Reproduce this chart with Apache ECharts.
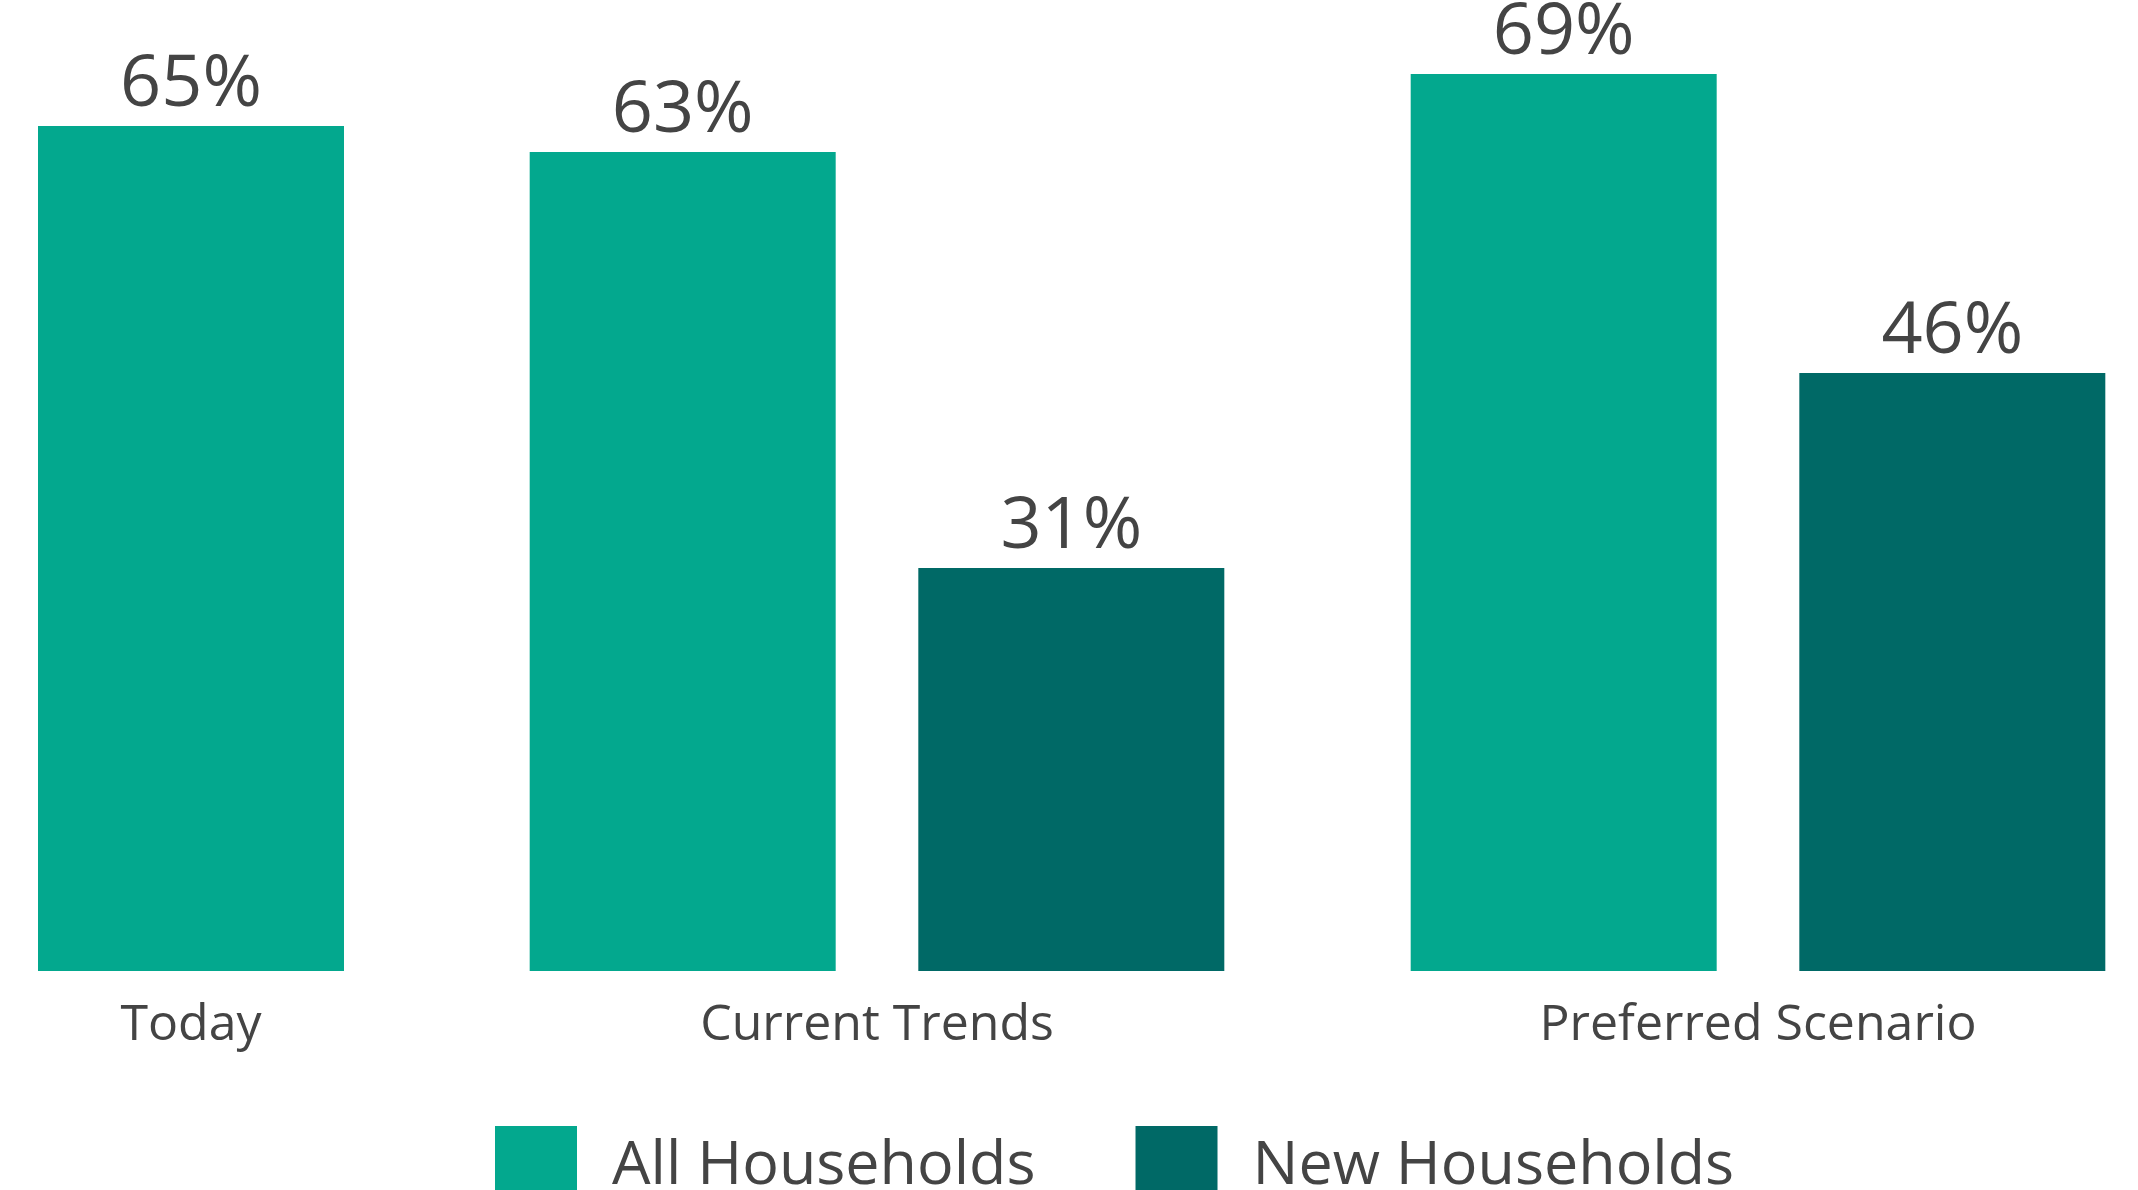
<!DOCTYPE html>
<html>
<head>
<meta charset="utf-8">
<script src="https://cdn.jsdelivr.net/npm/echarts@6/dist/echarts.min.js"></script>
<style>
html,body{margin:0;padding:0;background:#fff;}
#chart{width:2138px;height:1190px;}
</style>
</head>
<body>
<div id="chart"></div>
<script>
const categories = ["Today", "Current Trends", "Preferred Scenario"];
const allHouseholds = [65, 63, 69];
const newHouseholds = [null, 31, 46];
const seriesNames = ["All Households", "New Households"];
const colors = ["#03A88E", "#006966"];

const FONT = "'Open Sans', sans-serif";
const TEXT = "#444444";
// layout of each category group (pixel positions)
const gridLayout = [
  {left: 0, width: 382},
  {left: 477, width: 800},
  {left: 1408, width: 700}
];

const grids = [], xAxes = [], yAxes = [], series = [];
categories.forEach((cat, i) => {
  grids.push({left: gridLayout[i].left, width: gridLayout[i].width, top: 61, bottom: 219, containLabel: false});
  xAxes.push({
    type: 'category', gridIndex: i, data: [cat],
    axisLine: {show: false}, axisTick: {show: false},
    axisLabel: {fontSize: 50, color: TEXT, fontFamily: FONT, margin: 30}
  });
  yAxes.push({type: 'value', gridIndex: i, min: 0, max: 70, show: false, splitLine: {show: false}});
  const vals = [allHouseholds[i], newHouseholds[i]];
  vals.forEach((v, s) => {
    if (v === null) return;
    series.push({
      name: seriesNames[s], type: 'bar', xAxisIndex: i, yAxisIndex: i,
      data: [v], barWidth: 306, barGap: '27%',
      itemStyle: {color: colors[s]},
      label: {show: true, position: 'top', distance: 5, formatter: '{c}%',
              fontSize: 72, color: TEXT, fontFamily: FONT},
      animation: false
    });
  });
});

const chart = echarts.init(document.getElementById('chart'));
chart.setOption({
  backgroundColor: '#ffffff',
  animation: false,
  color: colors,
  legend: {
    data: seriesNames, left: 490, top: 1121,
    icon: 'rect', itemWidth: 82, itemHeight: 82, itemGap: 100,
    textStyle: {fontSize: 61, color: TEXT, fontFamily: FONT, padding: [0, 0, 0, 30]}
  },
  grid: grids, xAxis: xAxes, yAxis: yAxes, series: series
});
</script>
</body>
</html>
